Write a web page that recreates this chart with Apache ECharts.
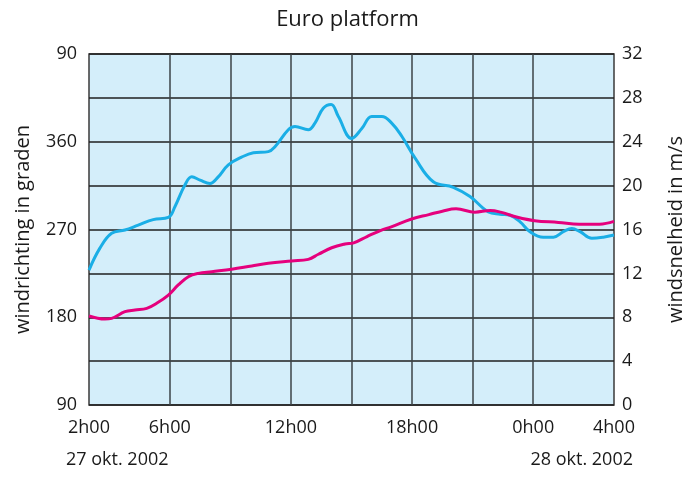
<!DOCTYPE html>
<html>
<head>
<meta charset="utf-8">
<script src="https://cdn.jsdelivr.net/npm/echarts@6/dist/echarts.min.js"></script>
<style>
  html, body { margin: 0; padding: 0; background: #fff; }
  #chart { width: 695px; height: 477px; }
</style>
</head>
<body>
<div id="chart"></div>
<script>
// uren vanaf 0h00 op 27 okt (24 = 0h00 op 28 okt)
const speedHours = [2.0, 2.54, 3.12, 3.78, 4.44, 5.18, 5.93, 6.26, 6.75, 7.09, 7.5, 7.99, 8.4, 8.9, 9.56, 10.14, 10.88, 11.21, 11.87, 12.2, 12.86, 13.19, 13.6, 13.99, 14.35, 15.01, 15.51, 16.0, 16.5, 16.99, 17.49, 18.15, 19.05, 20.04, 20.87, 21.78, 22.36, 22.85, 23.35, 23.84, 24.5, 25.0, 25.49, 25.91, 26.32, 26.9, 27.47, 28.0];
const speedValues = [12.3, 14.3, 15.65, 15.95, 16.4, 16.9, 17.1, 18.1, 20.05, 20.8, 20.5, 20.2, 20.8, 21.9, 22.6, 23.0, 23.1, 23.55, 25.1, 25.4, 25.1, 25.7, 27.05, 27.4, 26.3, 24.3, 25.2, 26.3, 26.3, 25.7, 24.5, 22.5, 20.35, 19.85, 19.0, 17.6, 17.4, 17.3, 16.7, 15.8, 15.3, 15.3, 15.8, 16.1, 15.8, 15.2, 15.3, 15.5];

const dirHours = [2.0, 2.79, 3.12, 3.78, 4.28, 4.86, 5.35, 5.93, 6.42, 6.92, 7.41, 8.08, 9.07, 10.06, 10.88, 12.04, 12.86, 13.36, 14.02, 14.68, 15.11, 15.77, 16.46, 16.97, 17.98, 18.83, 19.5, 20.18, 21.11, 21.87, 22.38, 23.22, 24.07, 25.25, 26.27, 27.28, 28.0];
const dirValues = [181.3, 178.2, 178.9, 185.7, 187.4, 189.1, 194.3, 202.8, 213.1, 221.6, 225, 226.7, 229.2, 232.6, 235.3, 237.7, 239.4, 244.6, 251.3, 255.1, 256.3, 262.8, 269.2, 272.7, 280.8, 285.3, 288.8, 291.2, 287.8, 289.5, 287.8, 282.5, 279, 277.3, 275.5, 275.5, 278.3];

const tickHours = [2, 6, 12, 18, 24, 28];
const tickLabels = ['2h00', '6h00', '12h00', '18h00', '0h00', '4h00'];
const gridHours = [6, 9, 12, 15, 18, 21, 24];
const dateLabels = ['27 okt. 2002', '28 okt. 2002'];

const font = 'Open Sans';
const txt = '#1a1a1a';

// categorie-as alleen voor de verticale rasterlijnen (elk uur)
const hourCats = [];
for (let h = 2; h <= 28; h++) hourCats.push(String(h));

const chart = echarts.init(document.getElementById('chart'));

chart.setOption({
  animation: false,
  title: {
    text: 'Euro platform',
    left: 'center',
    top: 4,
    textStyle: { fontFamily: font, fontSize: 22, fontWeight: 'normal', color: txt }
  },
  grid: {
    left: 89, right: 81, top: 54, bottom: 72,
    show: true,
    backgroundColor: '#d4eefa',
    borderColor: '#3a3a3a',
    borderWidth: 1.5
  },
  xAxis: [
    {
      type: 'value',
      min: 2,
      max: 28,
      interval: 1,
      axisLine: { show: false },
      axisTick: { show: false },
      splitLine: { show: false },
      axisLabel: {
        margin: 14,
        fontFamily: font, fontSize: 18, color: txt,
        formatter: (v) => {
          const i = tickHours.indexOf(v);
          return i >= 0 ? tickLabels[i] : '';
        }
      }
    },
    {
      type: 'category',
      data: hourCats,
      boundaryGap: false,
      position: 'bottom',
      axisLine: { show: false },
      axisTick: { show: false },
      axisLabel: { show: false },
      splitLine: {
        show: true,
        interval: (idx) => gridHours.includes(idx + 2),
        lineStyle: { color: '#3d4347', width: 1.5 }
      }
    }
  ],
  yAxis: [
    {
      type: 'value',
      name: 'windrichting in graden',
      nameLocation: 'middle',
      nameRotate: 90,
      nameGap: 56,
      nameTextStyle: { fontFamily: font, fontSize: 20, color: txt },
      min: 90,
      max: 450,
      interval: 90,
      axisLine: { show: false },
      axisTick: { show: false },
      splitLine: { show: false },
      axisLabel: {
        margin: 12,
        fontFamily: font, fontSize: 18, color: txt,
        formatter: (v) => String(v > 360 ? v - 360 : v)
      }
    },
    {
      type: 'value',
      name: 'windsnelheid in m/s',
      nameLocation: 'middle',
      nameRotate: 90,
      nameGap: 52,
      nameTextStyle: { fontFamily: font, fontSize: 20, color: txt },
      min: 0,
      max: 32,
      interval: 4,
      axisLine: { show: false },
      axisTick: { show: false },
      splitLine: { show: true, lineStyle: { color: '#1f1f1f', width: 1.5 } },
      axisLabel: { margin: 8, fontFamily: font, fontSize: 18, color: txt }
    }
  ],
  graphic: [
    {
      type: 'text', left: 66, top: 451,
      style: { text: dateLabels[0], font: '18px "Open Sans"', fill: txt }
    },
    {
      type: 'text', right: 62, top: 451,
      style: { text: dateLabels[1], font: '18px "Open Sans"', fill: txt }
    }
  ],
  series: [
    {
      name: 'windsnelheid',
      type: 'line',
      xAxisIndex: 0,
      yAxisIndex: 1,
      smooth: 0.4,
      symbol: 'none',
      lineStyle: { color: '#1aaee6', width: 3 },
      data: speedHours.map((h, i) => [h, speedValues[i]])
    },
    {
      name: 'windrichting',
      type: 'line',
      xAxisIndex: 0,
      yAxisIndex: 0,
      smooth: 0.4,
      symbol: 'none',
      lineStyle: { color: '#e5007d', width: 3 },
      data: dirHours.map((h, i) => [h, dirValues[i]])
    }
  ]
});
</script>
</body>
</html>
